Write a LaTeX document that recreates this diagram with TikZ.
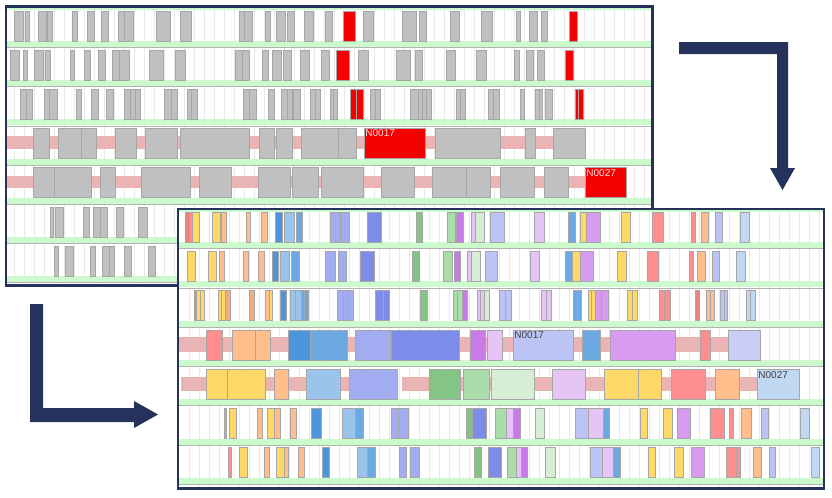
\documentclass[tikz,border=0pt]{standalone}
\usepackage{fontspec}
\newfontfamily\labfont{Liberation Sans}
\definecolor{navy}{RGB}{36,50,92}
\definecolor{gstrip}{RGB}{205,250,205}
\definecolor{pstrip}{RGB}{234,180,180}
\definecolor{gr1}{RGB}{192,192,192}
\definecolor{rd1}{RGB}{245,0,0}
\definecolor{sal}{RGB}{255,142,142}
\definecolor{dsal}{RGB}{238,128,128}
\definecolor{yel}{RGB}{255,217,104}
\definecolor{pch}{RGB}{255,190,140}
\definecolor{dpch}{RGB}{240,172,132}
\definecolor{blu}{RGB}{76,148,220}
\definecolor{lbl}{RGB}{155,196,236}
\definecolor{mbl}{RGB}{108,168,226}
\definecolor{per}{RGB}{162,172,240}
\definecolor{ind}{RGB}{124,140,232}
\definecolor{grn}{RGB}{132,196,132}
\definecolor{lgr}{RGB}{170,221,170}
\definecolor{vlg}{RGB}{214,238,214}
\definecolor{pur}{RGB}{200,122,235}
\definecolor{lpu}{RGB}{215,156,240}
\definecolor{lav}{RGB}{230,196,246}
\definecolor{lpe}{RGB}{188,196,245}
\definecolor{lpeb}{RGB}{200,206,246}
\definecolor{pbl}{RGB}{192,216,242}
\tikzset{
  barsty/.style={draw=black!35, line width=0.55pt},
  gridl/.style={draw=black!9, line width=0.5pt},
  seprule/.style={draw=black!30, line width=0.4pt},
  frame/.style={draw=navy, line width=1.8pt},
  arrowshape/.style={fill=navy, draw=none},
  lab/.style={font=\labfont\fontsize{7.5}{8}\selectfont, inner sep=0.5pt, anchor=north west}
}
\newcommand\barrow[2]{\foreach \xa/\xb/\cc in {#2}{\draw[barsty,fill=\cc] (\xa,#1) rectangle (\xb,#1+30);}}
\newcommand\greenrows[3]{\foreach \tp in {#3}{\fill[gstrip] (#1,\tp+30) rectangle (#2,\tp+36);\draw[seprule] (#1,\tp+36.5) -- (#2,\tp+36.5);}}
\begin{document}
\begin{tikzpicture}[x=0.75pt,y=-0.75pt]
\path[use as bounding box] (0,0) rectangle (832,497);
\fill[white] (0,0) rectangle (832,497);
% ---------- Panel 1 ----------
\fill[white] (5.7,6.3) rectangle (652.5,285.3);
\foreach \x in {14,24,...,644} \draw[gridl] (\x,7) -- (\x,284);
\fill[gstrip] (6.5,7.2) rectangle (651.5,10);
\greenrows{6.5}{651.5}{11,50.2,89.4,128.6,167.8,207,246.2}
\fill[pstrip] (7,136.3) rectangle (570,148.6);
\fill[pstrip] (7,175.5) rectangle (600,188);
\barrow{11}{14.7/23.3/gr1, 25/29/gr1, 38.7/46.7/gr1, 47.3/52.7/gr1, 72.7/77.3/gr1, 87.3/94/gr1, 101.7/108.7/gr1, 118/124.7/gr1, 124.7/133.7/gr1, 156/170.3/gr1, 180.7/191/gr1, 239.3/244.7/gr1, 244.7/252/gr1, 265/270.7/gr1, 276/285/gr1, 287/294.7/gr1, 304.3/313.7/gr1, 325/332.3/gr1, 343.3/355/rd1, 363.3/373.3/gr1, 402.7/416/gr1, 419/426/gr1, 450/459.3/gr1, 481.7/492/gr1, 516/520.7/gr1, 529.7/537/gr1, 541/547.7/gr1, 569.3/577.3/rd1}
\barrow{50.2}{10.7/19/gr1, 23.7/27.3/gr1, 34.7/43.3/gr1, 45.7/50.7/gr1, 70.3/74.7/gr1, 84/90.3/gr1, 98.3/105.3/gr1, 112.7/119.3/gr1, 119.3/129/gr1, 149.3/163.3/gr1, 175.7/185.7/gr1, 235.7/242.3/gr1, 242.3/249/gr1, 262.7/268/gr1, 272/281/gr1, 283/291.3/gr1, 300/309.7/gr1, 321.7/329/gr1, 336.7/349/rd1, 358.3/368.7/gr1, 396.7/410/gr1, 415/422.7/gr1, 446/455/gr1, 476.3/486.7/gr1, 514.3/519/gr1, 526/533.7/gr1, 537.7/544.7/gr1, 565/573.3/rd1}
\barrow{89.4}{20.3/26/gr1, 26/32/gr1, 44.3/49/gr1, 49/57/gr1, 76/81/gr1, 91.7/98.7/gr1, 106.3/113.3/gr1, 124/130/gr1, 130/135/gr1, 135/140.7/gr1, 164.7/171.7/gr1, 171.7/177.7/gr1, 187/191.7/gr1, 191.7/197.3/gr1, 243.7/249.3/gr1, 249.3/256.3/gr1, 268.7/274.3/gr1, 281.7/287.3/gr1, 287.3/292.3/gr1, 293.3/300/gr1, 310/315.3/gr1, 315.3/320/gr1, 330/333.3/gr1, 333.3/337.3/gr1, 350.7/356.7/rd1, 356.7/363/rd1, 370/375/gr1, 375/380/gr1, 410.7/418/gr1, 418/422/gr1, 422/426.7/gr1, 426.7/431.7/gr1, 456.3/460.7/gr1, 460.7/465.3/gr1, 488/493.3/gr1, 493.3/499/gr1, 520/524.3/gr1, 535/539/gr1, 539/542.3/gr1, 545.7/552.3/gr1, 575/578.7/rd1, 578.7/583.3/rd1}
\barrow{128.6}{33.3/49/gr1, 58.7/81.7/gr1, 81.7/96.7/gr1, 115/136/gr1, 145/177.7/gr1, 180/249/gr1, 259/274/gr1, 276/292/gr1, 301.7/338.3/gr1, 338.3/356/gr1, 364.3/425.3/rd1, 435/500.7/gr1, 525.7/535.7/gr1, 553.3/585/gr1}
\barrow{167.8}{33.3/54/gr1, 54/91.7/gr1, 100/115/gr1, 141.7/190/gr1, 199/231/gr1, 258.3/290/gr1, 292/318.7/gr1, 321/363.3/gr1, 381/414/gr1, 432.3/466.7/gr1, 466.7/490/gr1, 500/534/gr1, 544/568/gr1, 585/626.7/rd1}
\barrow{207}{50/53.3/gr1, 55/63.3/gr1, 83.7/89/gr1, 93/100/gr1, 100/107/gr1, 116.7/123/gr1, 138/147/gr1}
\barrow{246.2}{54.3/58.3/gr1, 65/73.3/gr1, 90.3/95/gr1, 102.3/109.3/gr1, 109.3/114.3/gr1, 124.7/131/gr1, 148.7/155.3/gr1}
\node[lab, text=red!12] (ta) at (364.5,129) {N0017};
\node[lab, text=red!12] (tb) at (585.5,168.5) {N0027};
\draw[frame] (5.7,6.3) rectangle (652.5,285.3);
% ---------- Panel 2 ----------
\fill[white] (177.8,208.7) rectangle (823.7,488.3);
\foreach \x in {189,199,...,819} \draw[gridl] (\x,209.5) -- (\x,487.5);
\fill[gstrip] (178.7,209.5) rectangle (822.8,211.8);
\greenrows{178.7}{822.8}{212,251.3,290.6,329.9,369.2,408.5,447.8}
\fill[pstrip] (179,337.2) rectangle (745,351.5);
\fill[pstrip] (181,377) rectangle (397,391);
\fill[pstrip] (402,377) rectangle (780,391);
\barrow{212}{185.3/189/dsal, 189/192/sal, 192/199/yel, 212.3/220/yel, 221.7/226/pch, 246/250.7/pch, 261/267.7/pch, 275.3/282/blu, 284.3/294.3/lbl, 296/302.7/mbl, 330.7/340/per, 341.7/349/per, 367.3/381/ind, 416/422.7/grn, 447/455.7/lgr, 456.7/463.3/pur, 471/475.7/lav, 475.7/484/vlg, 490.7/504/lpe, 534.3/544.3/lav, 568.7/575.7/mbl, 580/586.7/yel, 586.7/600/lpu, 621.7/630/yel, 652.7/663.3/sal, 691/695/sal, 701/708.3/pch, 715.7/722/lpe, 740.3/749.3/pbl}
\barrow{251.3}{187.3/195/yel, 208.7/216/yel, 219/224/pch, 243.7/248/pch, 258/264/pch, 272/278.7/blu, 280/289.3/lbl, 291.7/299.3/mbl, 325.7/335.7/per, 338.3/346/per, 360/374/ind, 412.7/419.3/grn, 443/452/lgr, 454/460.7/pur, 467/471.3/lav, 471.3/480/vlg, 485/497.7/lpe, 530/539.3/lav, 565.3/572.7/mbl, 572.7/580.7/yel, 580.7/593.3/lpu, 617/626/yel, 647.7/658/sal, 689/693.3/sal, 697.3/705.3/pch, 712.7/719.3/lpe, 736.3/745.3/pbl}
\barrow{290.6}{194/196.7/dsal, 196.7/200.7/yel, 200.7/204.7/yel, 218/221.7/yel, 221.7/225.7/yel, 225.7/230.3/dpch, 249.7/254.7/dpch, 265.7/269/pch, 269/272.3/yel, 280/286.7/blu, 290.7/295.3/lbl, 295.3/301/lbl, 301/304.7/mbl, 304.7/308.3/mbl, 337/343.3/per, 343.3/347.7/per, 347.7/353.7/per, 375.7/383.3/ind, 383.3/389.7/ind, 420.7/427.3/grn, 453/457.3/lgr, 457.3/462/lgr, 462/467.7/pur, 477/480/lav, 480/484/lav, 484/489.7/vlg, 499/505.7/lpe, 505.7/511.7/lpe, 541/546/lav, 546/551/lav, 573.7/577.7/mbl, 577.7/581/mbl, 588/591/yel, 591/595.3/yel, 595.3/601.7/lpu, 601.7/608/lpu, 627/632/yel, 632/637/yel, 659.7/664.3/sal, 664.3/670/sal, 695/699/dsal, 706/710/pch, 710/714/pch, 720.7/724/lpe, 724/727.3/lpe, 746/750.7/pbl, 750.7/755.3/pbl}
\barrow{329.9}{206.7/222.3/sal, 232.3/255.7/pch, 255.7/270/pch, 288.7/310/blu, 310/347.3/mbl, 355.7/390/per, 391/459.3/ind, 470/485.7/pur, 487.7/502.7/lav, 513.3/573.3/lpe, 582/600/mbl, 610/675/lpu, 700.7/710/sal, 728.3/760/lpeb}
\barrow{369.2}{206.7/227.3/yel, 227.3/265/yel, 274/288.3/pch, 306.7/340.7/lbl, 349/397/per, 429/460.7/grn, 463.3/489.3/lgr, 491/534/vlg, 552.7/585.3/lav, 604/638.3/yel, 638.3/661.7/yel, 671/705/sal, 715.7/739.7/pch, 757/799/pbl}
\barrow{408.5}{224/226.7/sal, 229.3/236.7/yel, 257.3/262/pch, 267.3/274/yel, 274/280.3/pch, 290.3/296.7/pch, 311.7/321/blu, 342.3/355.7/lbl, 355.7/363.7/mbl, 391/398.3/per, 398.3/408/per, 466/472.3/grn, 472.3/486/ind, 495/506/lgr, 506/513.3/lav, 513.3/520/pur, 535/544.3/vlg, 575.7/588.3/lpe, 588.3/603.3/lav, 603.3/609.7/mbl, 640/647.7/yel, 663/672.3/yel, 677/690/lpu, 710.3/724.7/sal, 729/733.7/sal, 741/751.7/pch, 761/768.3/lpe, 800/809.3/pbl}
\barrow{447.8}{228.7/231.7/sal, 239/247/yel, 264.3/269/pch, 276.3/284/yel, 284/288.3/pch, 298.7/304.7/pch, 322.3/329.3/blu, 357.3/367.3/lbl, 367.3/375/mbl, 399.7/406.3/per, 410/419.3/per, 474/481/grn, 488.3/501.7/ind, 507.7/516/lgr, 516/521/lav, 521/527.3/pur, 545.3/555/vlg, 590/602.7/lpe, 602.7/613.3/lav, 613.3/620.3/mbl, 648.7/655.7/yel, 674/683.3/yel, 691.3/704.3/lpu, 726/736.7/sal, 736.7/740.3/sal, 753/761/pch, 769.7/775.7/lpe, 811/819.3/pbl}
\node[lab, text=black!75] (tc) at (513.5,331) {N0017};
\node[lab, text=black!75] (td) at (757.5,370.5) {N0027};
\draw[frame] (177.8,208.7) rectangle (823.7,488.3);
% ---------- Arrows ----------
\fill[arrowshape] (679,42) -- (788,42) -- (788,168) -- (795,168) -- (782.5,190) -- (770,168) -- (777,168) -- (777,54) -- (679,54) -- cycle;
\fill[arrowshape] (30,304) -- (43,304) -- (43,408) -- (134,408) -- (134,401) -- (158,414.5) -- (134,428) -- (134,422) -- (30,422) -- cycle;
\end{tikzpicture}
\end{document}
